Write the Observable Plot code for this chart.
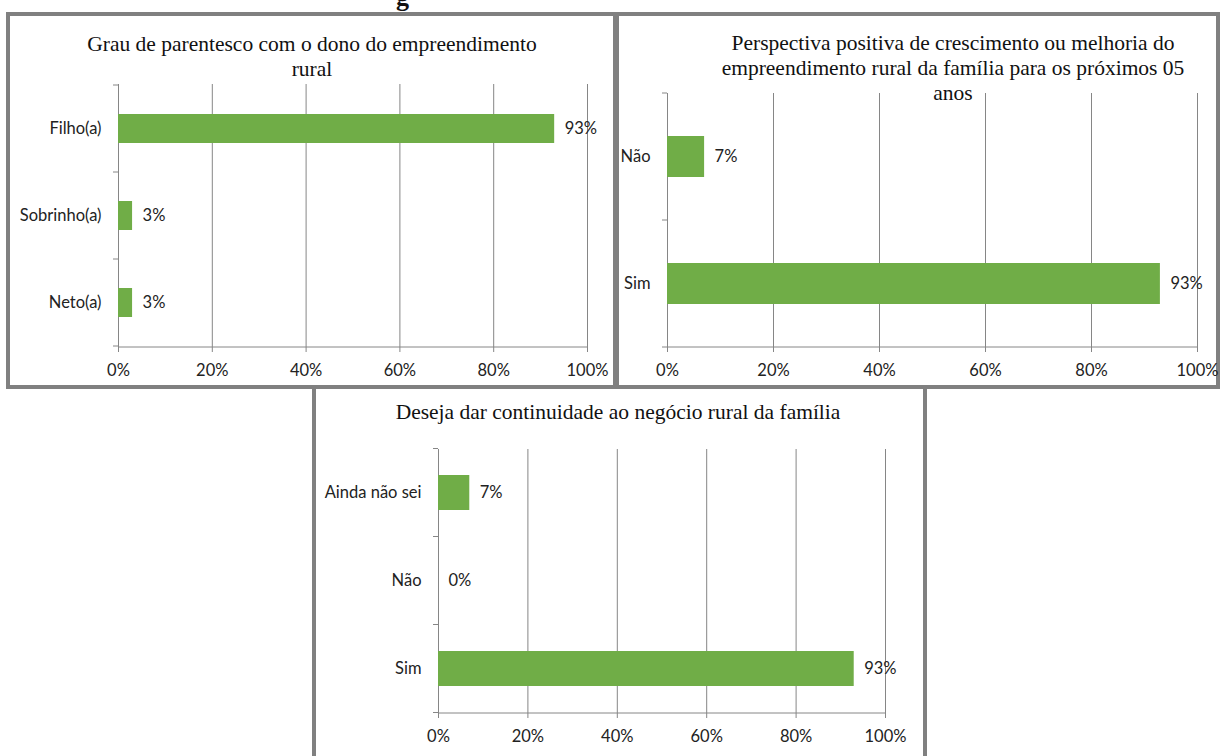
<!DOCTYPE html>
<html>
<head>
<meta charset="utf-8">
<script src="https://cdn.jsdelivr.net/npm/d3@7"></script>
<script src="https://cdn.jsdelivr.net/npm/@observablehq/plot@0.6"></script>
<style>
html, body { margin: 0; padding: 0; background: #fff; }
body { width: 1220px; height: 756px; position: relative; overflow: hidden; }
.panel { position: absolute; box-sizing: border-box; border: 4px solid #808080; }
.title { position: absolute; font-family: "Liberation Serif", "Times New Roman", serif; font-size: 21.5px;
         line-height: 25px; color: #111; text-align: center; white-space: nowrap; transform: translateX(-50%); }
.chart { position: absolute; }
.cut { position: absolute; font-family: "Liberation Serif", serif; font-weight: bold; font-size: 26px; line-height: 26px; color: #111; }
</style>
</head>
<body>
<div class="cut" style="left:396px; top:-15px;">g</div>
<script>
// ---------- data ----------
const cats1 = ["Filho(a)", "Sobrinho(a)", "Neto(a)"];
const vals1 = [93, 3, 3];
const title1 = ["Grau de parentesco com o dono do empreendimento", "rural"];

const cats2 = ["Não", "Sim"];
const vals2 = [7, 93];
const title2 = ["Perspectiva positiva de crescimento ou melhoria do",
                "empreendimento rural da família para os próximos 05", "anos"];

const cats3 = ["Ainda não sei", "Não", "Sim"];
const vals3 = [7, 0, 93];
const title3 = ["Deseja dar continuidade ao negócio rural da família"];

const xTicks = [0, 20, 40, 60, 80, 100];
const fmtPct = d => d + "%";

// ---------- styles / layout ----------
const GREEN = "#70ad47";
const GRID = "#868686";
const TEXT = "#222";
const FS = 16.5;

const panels = [
  { cats: cats1, vals: vals1, title: title1, box: [6, 12, 617, 389], titleX: 312, titleTop: 32,
    svg: [10, 16, 613, 385], plot: [118, 587, 84, 347], padding: 0.665 },
  { cats: cats2, vals: vals2, title: title2, box: [615, 12, 1220, 389], titleX: 953, titleTop: 31,
    svg: [619, 16, 1216, 385], plot: [667, 1197, 93, 347], padding: 0.68 },
  { cats: cats3, vals: vals3, title: title3, box: [312, 385, 927, 770], titleX: 618, titleTop: 400,
    svg: [316, 389, 923, 756], plot: [438, 885, 449, 713], padding: 0.6 }
];

function categoryFrame(cats) {
  return (index, scales, values, dims) => {
    const y = scales.y;
    const bw = y.bandwidth();
    const step = y.step ? y.step() : bw;
    const left = dims.marginLeft;
    const right = dims.width - dims.marginRight;
    const bottom = dims.height - dims.marginBottom;
    const g = d3.create("svg:g").attr("stroke", GRID).attr("stroke-width", 1);
    const bounds = cats.map(c => y(c) + bw / 2 - step / 2);
    bounds.push(y(cats[cats.length - 1]) + bw / 2 + step / 2);
    for (const b of bounds) {
      g.append("line").attr("x1", left - 5).attr("x2", left).attr("y1", b).attr("y2", b);
    }
    g.append("line").attr("x1", left).attr("x2", right).attr("y1", bottom).attr("y2", bottom);
    return g.node();
  };
}

for (const p of panels) {
  const box = document.createElement("div");
  box.className = "panel";
  Object.assign(box.style, {
    left: p.box[0] + "px", top: p.box[1] + "px",
    width: (p.box[2] - p.box[0]) + "px", height: (p.box[3] - p.box[1]) + "px"
  });
  document.body.appendChild(box);

  const data = p.cats.map((c, i) => ({ cat: c, value: p.vals[i] }));
  const [sx0, sy0, sx1, sy1] = p.svg;
  const [x0, x1, y0, y1] = p.plot;

  const chart = Plot.plot({
    width: sx1 - sx0,
    height: sy1 - sy0,
    marginLeft: x0 - sx0,
    marginRight: sx1 - x1,
    marginTop: y0 - sy0,
    marginBottom: sy1 - y1,
    style: { fontFamily: "Lato, 'Open Sans', sans-serif", fontSize: FS + "px", color: TEXT, background: "transparent", overflow: "visible" },
    x: { domain: [0, 100], label: null },
    y: { domain: p.cats, type: "band", paddingInner: p.padding, paddingOuter: p.padding / 2, align: 0.5, label: null },
    marks: [
      Plot.ruleX(xTicks, { stroke: GRID, strokeWidth: 1 }),
      categoryFrame(p.cats),
      Plot.axisX({ ticks: xTicks, tickFormat: fmtPct, tickSize: 5, tickPadding: 12, stroke: GRID, fill: TEXT, fontSize: FS, label: null }),
      Plot.axisY({ tickSize: 0, tickPadding: 17, fill: TEXT, fontSize: FS, label: null }),
      Plot.barX(data, { x: "value", y: "cat", fill: GREEN }),
      Plot.text(data, { x: "value", y: "cat", text: d => fmtPct(d.value), textAnchor: "start", dx: 10, fill: TEXT, fontSize: FS })
    ]
  });
  chart.classList.add("chart");
  Object.assign(chart.style, { left: sx0 + "px", top: sy0 + "px" });
  document.body.appendChild(chart);

  const t = document.createElement("div");
  t.className = "title";
  t.innerHTML = p.title.map(s => s.replace(/&/g, "&amp;")).join("<br>");
  Object.assign(t.style, { left: p.titleX + "px", top: p.titleTop + "px" });
  document.body.appendChild(t);
}
</script>
</body>
</html>
